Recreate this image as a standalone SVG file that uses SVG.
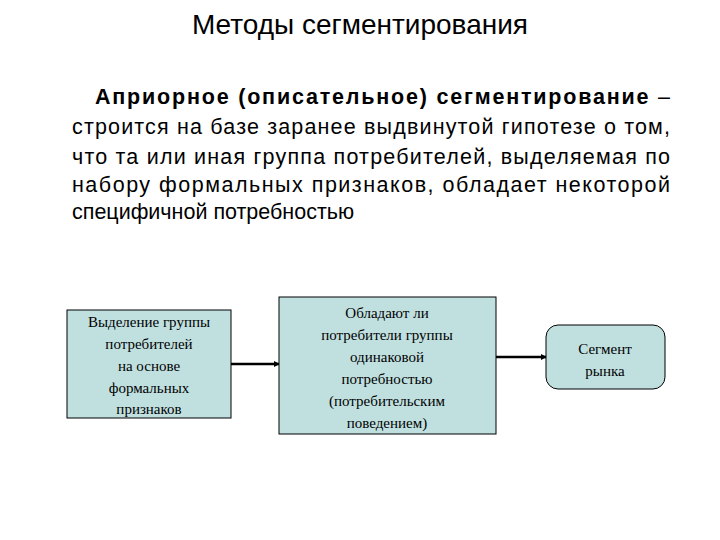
<svg xmlns="http://www.w3.org/2000/svg" width="720" height="540" viewBox="0 0 720 540">
<style>
.t{font-family:"Liberation Sans",Arial,sans-serif;font-size:21.5px;fill:#000}
.b{fill:#c0e0e0;stroke:#000;stroke-width:1}
.n{font-family:"Liberation Serif","Times New Roman",serif;font-size:15px;fill:#000;text-anchor:middle}
.c{stroke:#000;stroke-width:2.5;fill:none;marker-end:url(#a)}
</style>
<defs><marker id="a" markerWidth="6" markerHeight="6" refX="5" refY="3" orient="auto" markerUnits="userSpaceOnUse"><path d="M0,0L6,3L0,6z" fill="#000"/></marker></defs>
<rect width="720" height="540" fill="#fff"/>
<text x="360" y="34" text-anchor="middle" style="font-family:'Liberation Sans',Arial,sans-serif;font-size:28px">Методы сегментирования</text>
<text class="t" x="95" y="104" textLength="575" lengthAdjust="spacing"><tspan font-weight="bold">Априорное (описательное) сегментирование</tspan> –</text>
<text class="t" x="72" y="134" textLength="598" lengthAdjust="spacing">строится на базе заранее выдвинутой гипотезе о том,</text>
<text class="t" x="72" y="164" textLength="598" lengthAdjust="spacing">что та или иная группа потребителей, выделяемая по</text>
<text class="t" x="72" y="192" textLength="598" lengthAdjust="spacing">набору формальных признаков, обладает некоторой</text>
<text class="t" x="72" y="219">специфичной потребностью</text>
<g id="connectors">
<line class="c" x1="231" y1="364" x2="279" y2="364"/>
<line class="c" x1="496" y1="357" x2="546" y2="357"/>
</g>
<g id="n1"><rect class="b" x="67" y="310" width="164" height="108"/>
<text class="n"><tspan x="149" y="327">Выделение группы</tspan><tspan x="149" y="349">потребителей</tspan><tspan x="149" y="371">на основе</tspan><tspan x="149" y="393">формальных</tspan><tspan x="149" y="414">признаков</tspan></text></g>
<g id="n2"><rect class="b" x="279" y="297" width="217" height="137"/>
<text class="n"><tspan x="387" y="318">Обладают ли</tspan><tspan x="387" y="340">потребители группы</tspan><tspan x="387" y="362">одинаковой</tspan><tspan x="387" y="384">потребностью</tspan><tspan x="387" y="406">(потребительским</tspan><tspan x="387" y="428">поведением)</tspan></text></g>
<g id="n3"><rect class="b" x="546" y="325" width="119" height="64" rx="12"/>
<text class="n"><tspan x="605" y="354">Сегмент</tspan><tspan x="605" y="376">рынка</tspan></text></g>
</svg>
